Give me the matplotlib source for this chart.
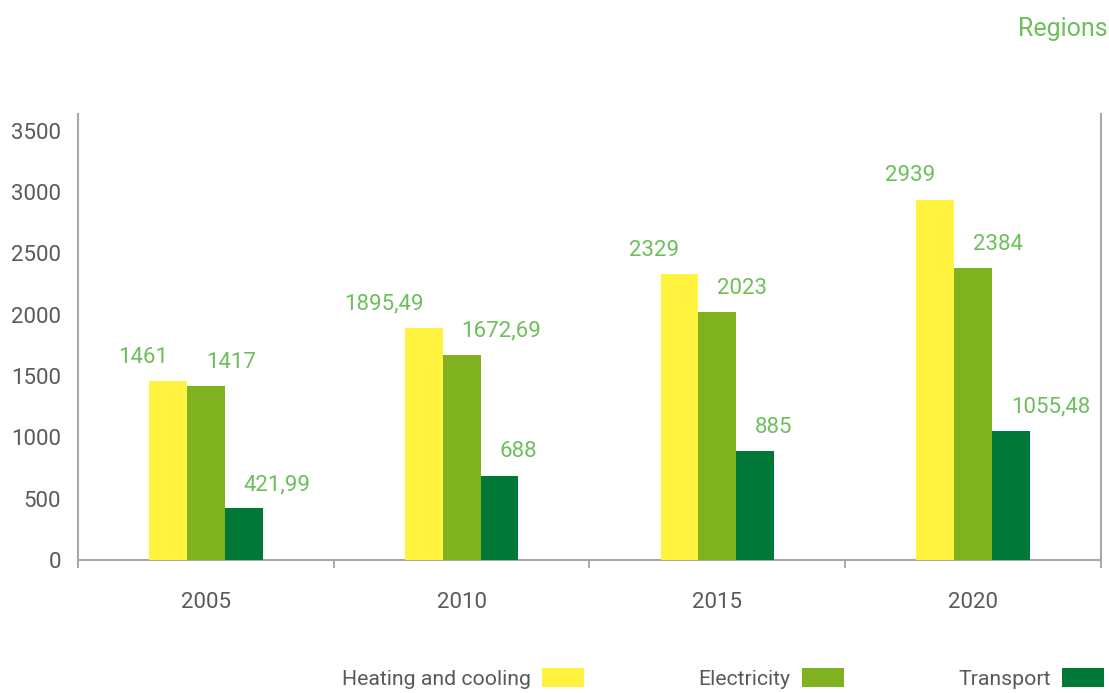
import matplotlib.pyplot as plt
import numpy as np

plt.rcParams['font.family'] = ['Roboto', 'Liberation Sans', 'DejaVu Sans']

years = ['2005', '2010', '2015', '2020']
heating = [1461, 1895.49, 2329, 2939]
electricity = [1417, 1672.69, 2023, 2384]
transport = [421.99, 688, 885, 1055.48]

series = [
    ('Heating and cooling', heating, '#fff33f', 'right'),
    ('Electricity', electricity, '#80b21f', 'left'),
    ('Transport', transport, '#007838', 'left'),
]

label_col = '#6dbf5b'
grey = '#5a5a5a'

fig = plt.figure(figsize=(11.09, 6.93), dpi=100)
ax = fig.add_axes([0.0703, 0.192, 0.9225, 0.644])

x = np.arange(len(years))
w = 0.148
for k, (name, vals, col, ha) in enumerate(series):
    pos = x + (k - 1) * w
    ax.bar(pos, vals, width=w, color=col, label=name, zorder=3)
    for p, v in zip(pos, vals):
        if v != int(v):
            txt = f'{v:.2f}'.replace('.', ',')
        else:
            txt = f'{int(v)}'
        ax.annotate(txt, (p, v), xytext=(0, 17), textcoords='offset points',
                    ha=ha, va='center', fontsize=16, color=label_col)

ax.set_xlim(-0.5, len(years) - 0.5)
ax.set_ylim(0, 3640)
ax.set_yticks(np.arange(0, 3501, 500))
ax.set_xticks(x)
ax.set_xticklabels(years)
ax.set_xticks(np.arange(-0.5, len(years), 1), minor=True)
ax.tick_params(axis='x', which='major', length=0, pad=23, labelsize=16, labelcolor=grey)
ax.tick_params(axis='x', which='minor', length=6, width=1.2, color='#9a9a9a', direction='out')
ax.tick_params(axis='y', length=0, pad=12, labelsize=16, labelcolor=grey)

ax.spines['top'].set_visible(False)
for s in ['left', 'bottom', 'right']:
    ax.spines[s].set_color('#a8a8a8')
    ax.spines[s].set_linewidth(1.5)

fig.text(0.9985, 0.958, 'Regions', ha='right', va='center', fontsize=18, color=label_col)

fig.legend(loc='lower right', bbox_to_anchor=(1.007, -0.013), ncol=3, frameon=False,
           markerfirst=False, fontsize=15.3, labelcolor=grey, handlelength=1.98,
           handleheight=1.0, handletextpad=0.52, columnspacing=5.4, borderpad=0.1)

fig.savefig('out.png', dpi=100)
